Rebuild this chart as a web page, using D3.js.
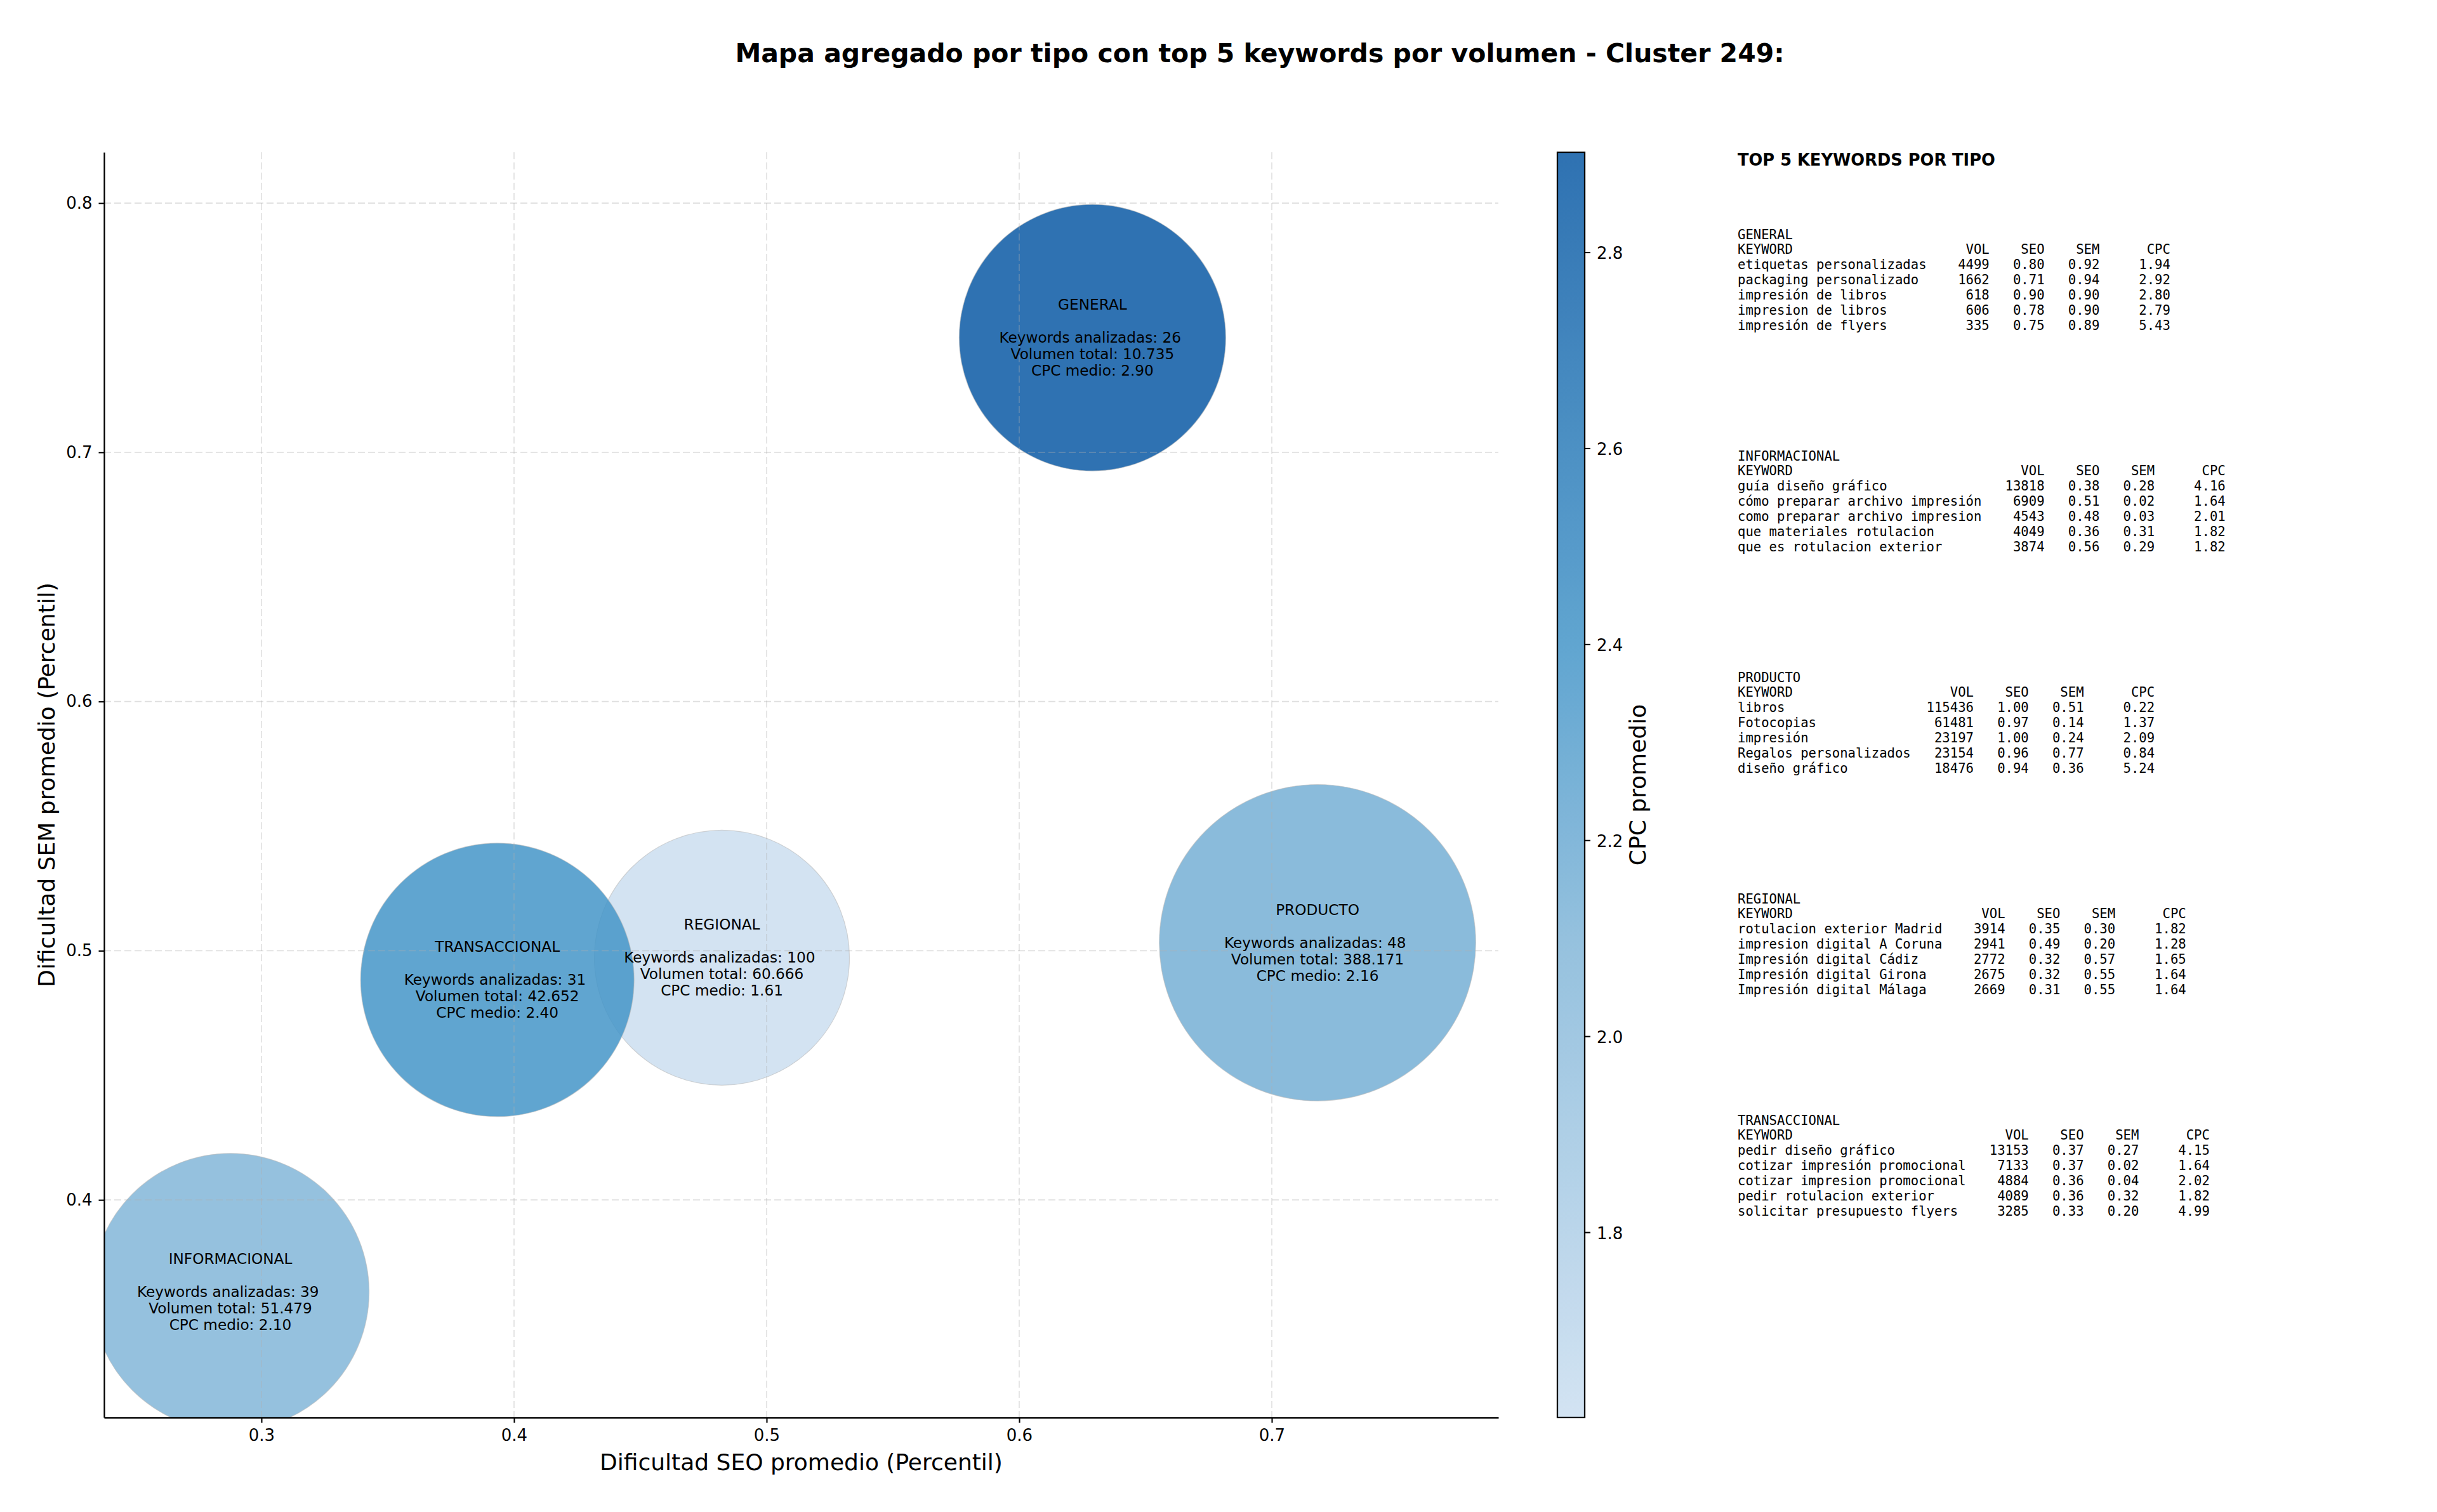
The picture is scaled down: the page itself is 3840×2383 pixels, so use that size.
<!DOCTYPE html>
<html>
<head>
<meta charset="utf-8">
<script src="https://cdnjs.cloudflare.com/ajax/libs/d3/7.8.5/d3.min.js"></script>
<style>
html,body{margin:0;padding:0;background:#fff;}
svg{display:block;}
text{font-family:"DejaVu Sans",sans-serif;fill:#000;white-space:pre;}
.mono{font-family:"DejaVu Sans Mono",monospace;}
</style>
</head>
<body>
<script>
// ---------- data ----------
const typeNames     = ["GENERAL","INFORMACIONAL","PRODUCTO","REGIONAL","TRANSACCIONAL"];
const seoValues     = [0.629,0.2877,0.7181,0.4823,0.3934];
const semValues     = [0.746,0.363,0.5032,0.4972,0.4883];
const bubbleSizes   = [4410,4778,6215,4040,4644];
const cpcValues     = [2.90,2.10,2.16,1.61,2.40];
const keywordCounts = [26,39,48,100,31];
const volumeTotals  = [10735,51479,388171,60666,42652];

const xTicks   = [0.3,0.4,0.5,0.6,0.7];
const yTicks   = [0.4,0.5,0.6,0.7,0.8];
const cpcTicks = [1.8,2.0,2.2,2.4,2.6,2.8];
const cpcStops  = [1.61,2.10,2.16,2.40,2.90];
const cpcColors = ["#cbdef0","#82b6d8","#75afd5","#4495c8","#0a59a4"];

const tableGeneral = [
  ["etiquetas personalizadas",4499,0.80,0.92,1.94],
  ["packaging personalizado",1662,0.71,0.94,2.92],
  ["impresión de libros",618,0.90,0.90,2.80],
  ["impresion de libros",606,0.78,0.90,2.79],
  ["impresión de flyers",335,0.75,0.89,5.43]];
const tableInformacional = [
  ["guía diseño gráfico",13818,0.38,0.28,4.16],
  ["cómo preparar archivo impresión",6909,0.51,0.02,1.64],
  ["como preparar archivo impresion",4543,0.48,0.03,2.01],
  ["que materiales rotulacion",4049,0.36,0.31,1.82],
  ["que es rotulacion exterior",3874,0.56,0.29,1.82]];
const tableProducto = [
  ["libros",115436,1.00,0.51,0.22],
  ["Fotocopias",61481,0.97,0.14,1.37],
  ["impresión",23197,1.00,0.24,2.09],
  ["Regalos personalizados",23154,0.96,0.77,0.84],
  ["diseño gráfico",18476,0.94,0.36,5.24]];
const tableRegional = [
  ["rotulacion exterior Madrid",3914,0.35,0.30,1.82],
  ["impresion digital A Coruna",2941,0.49,0.20,1.28],
  ["Impresión digital Cádiz",2772,0.32,0.57,1.65],
  ["Impresión digital Girona",2675,0.32,0.55,1.64],
  ["Impresión digital Málaga",2669,0.31,0.55,1.64]];
const tableTransaccional = [
  ["pedir diseño gráfico",13153,0.37,0.27,4.15],
  ["cotizar impresión promocional",7133,0.37,0.02,1.64],
  ["cotizar impresion promocional",4884,0.36,0.04,2.02],
  ["pedir rotulacion exterior",4089,0.36,0.32,1.82],
  ["solicitar presupuesto flyers",3285,0.33,0.20,4.99]];
const tables = [tableGeneral,tableInformacional,tableProducto,tableRegional,tableTransaccional];

const titleText = "Mapa agregado por tipo con top 5 keywords por volumen - Cluster 249:";
const xLabel = "Dificultad SEO promedio (Percentil)";
const yLabel = "Dificultad SEM promedio (Percentil)";
const cLabel = "CPC promedio";
const panelTitle = "TOP 5 KEYWORDS POR TIPO";

// ---------- layout ----------
const W=3840,H=2383;
const L=164,R=2361,T=240,B=2234;
const svg=d3.select("body").append("svg").attr("width",W).attr("height",H).attr("viewBox",`0 0 ${W} ${H}`);
svg.append("rect").attr("width",W).attr("height",H).attr("fill","#fff");

const x=d3.scaleLinear().domain([0.2377,0.7897]).range([L,R]);
const y=d3.scaleLinear().domain([0.3127,0.8204]).range([B,T]);
const r=d3.scaleSqrt().domain([0,6215]).range([0,249.3]);
const color=d3.scaleLinear().domain(cpcStops).range(cpcColors);
const ALPHA=0.85;
const idx=d3.range(typeNames.length);

const defs=svg.append("defs");
defs.append("clipPath").attr("id","plot").append("rect").attr("x",L).attr("y",T).attr("width",R-L).attr("height",B-T);

// bubbles (below grid, as in the source)
svg.append("g").attr("clip-path","url(#plot)").selectAll("circle").data(idx).join("circle")
  .attr("cx",i=>x(seoValues[i])).attr("cy",i=>y(semValues[i])).attr("r",i=>r(bubbleSizes[i]))
  .attr("fill",i=>color(cpcValues[i])).attr("fill-opacity",ALPHA)
  .attr("stroke","#bbb").attr("stroke-opacity",0.6).attr("stroke-width",1.2);

// grid
const grid=svg.append("g").attr("stroke","#b0b0b0").attr("stroke-opacity",0.4).attr("stroke-width",1.6).attr("stroke-dasharray","11 5");
grid.selectAll("line.v").data(xTicks).join("line").attr("class","v")
  .attr("x1",d=>x(d)).attr("x2",d=>x(d)).attr("y1",T).attr("y2",B);
grid.selectAll("line.h").data(yTicks).join("line").attr("class","h")
  .attr("x1",L).attr("x2",R).attr("y1",d=>y(d)).attr("y2",d=>y(d));

// axes
function styleAxis(g){
  g.selectAll("path.domain").attr("stroke","#000").attr("stroke-width",2.3);
  g.selectAll(".tick line").attr("stroke","#000").attr("stroke-width",2.1);
  g.selectAll(".tick text").attr("font-size",26).attr("font-family",'"DejaVu Sans"').attr("fill","#000");
}
svg.append("g").attr("transform",`translate(0,${B})`)
  .call(d3.axisBottom(x).tickValues(xTicks).tickFormat(d3.format(".1f")).tickSize(8.5).tickPadding(10).tickSizeOuter(0)).call(styleAxis);
svg.append("g").attr("transform",`translate(${L},0)`)
  .call(d3.axisLeft(y).tickValues(yTicks).tickFormat(d3.format(".1f")).tickSize(8.5).tickPadding(10).tickSizeOuter(0)).call(styleAxis);

// annotations
const fmt=d3.formatLocale({decimal:",",thousands:".",grouping:[3],currency:["",""]}).format(",d");
const LINE=26, AF=23.2;
const ann=svg.append("g").selectAll("g").data(idx).join("g")
  .attr("transform",i=>`translate(${x(seoValues[i])},${y(semValues[i])})`);
ann.each(function(i){
  const lines=[typeNames[i],"",`Keywords analizadas: ${keywordCounts[i]} `,`Volumen total: ${fmt(volumeTotals[i])}`,`CPC medio: ${cpcValues[i].toFixed(2)}`];
  const g=d3.select(this);
  lines.forEach((t,k)=>{ if(!t) return;
    g.append("text").attr("text-anchor","middle").attr("font-size",AF)
     .attr("y",(k-2)*LINE+8).text(t);
  });
});

// axis labels & title
svg.append("text").attr("x",1985).attr("y",98).attr("text-anchor","middle").attr("font-size",41).attr("font-weight","bold").text(titleText);
svg.append("text").attr("x",(L+R)/2).attr("y",2317).attr("text-anchor","middle").attr("font-size",36).text(xLabel);
svg.append("text").attr("transform",`translate(86,${(T+B)/2}) rotate(-90)`).attr("text-anchor","middle").attr("font-size",36).text(yLabel);

// colorbar
const cbL=2454,cbR=2497;
const cy=d3.scaleLinear().domain([1.611,2.902]).range([B,T]);
const grad=defs.append("linearGradient").attr("id","cb").attr("x1",0).attr("x2",0).attr("y1",1).attr("y2",0);
d3.range(0,1.0001,0.02).forEach(t=>{
  const v=1.611+t*(2.902-1.611);
  grad.append("stop").attr("offset",t).attr("stop-color",color(v));
});
svg.append("rect").attr("x",cbL).attr("y",T).attr("width",cbR-cbL).attr("height",B-T).attr("fill","url(#cb)").attr("fill-opacity",ALPHA);
svg.append("rect").attr("x",cbL).attr("y",T).attr("width",cbR-cbL).attr("height",B-T).attr("fill","none").attr("stroke","#000").attr("stroke-width",2.3);
svg.append("g").attr("transform",`translate(${cbR},0)`)
  .call(d3.axisRight(cy).tickValues(cpcTicks).tickFormat(d3.format(".1f")).tickSize(9).tickPadding(10).tickSizeOuter(0))
  .call(g=>{g.select("path.domain").remove();styleAxis(g);g.selectAll(".tick text").attr("dy","0.4em");});
svg.append("text").attr("transform",`translate(2593,${(T+B)/2}) rotate(-90)`).attr("text-anchor","middle").attr("font-size",36).text(cLabel);

// right panel
const PX=2738, PF=20.6, PL=23.95, PSTEP=349, P0=376.5;
svg.append("text").attr("x",PX).attr("y",261).attr("font-size",25.7).attr("font-weight","bold").text(panelTitle);
const panel=svg.append("g").selectAll("g").data(idx).join("g")
  .attr("transform",i=>`translate(${PX},${P0+i*PSTEP})`);
panel.each(function(i){
  const rows=tables[i];
  const w=d3.max(rows,d=>d[0].length);
  const row=(a,b,c,d,e)=>a.padEnd(w)+String(b).padStart(8)+String(c).padStart(7)+String(d).padStart(7)+String(e).padStart(9);
  const lines=[typeNames[i],row("KEYWORD","VOL","SEO","SEM","CPC")]
    .concat(rows.map(d=>row(d[0],d[1],d[2].toFixed(2),d[3].toFixed(2),d[4].toFixed(2))));
  d3.select(this).selectAll("text").data(lines).join("text").attr("class","mono")
    .attr("font-size",PF).attr("y",(d,k)=>k*PL).text(d=>d);
});
</script>
</body>
</html>
